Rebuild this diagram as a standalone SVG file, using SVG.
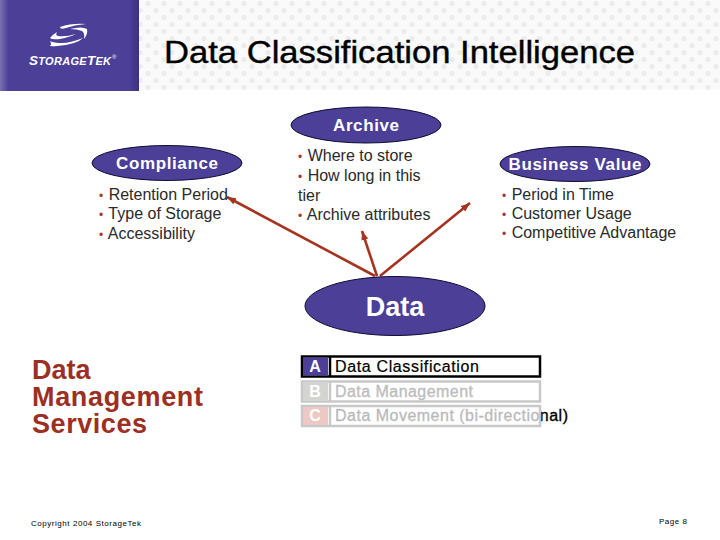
<svg xmlns="http://www.w3.org/2000/svg" width="720" height="540" viewBox="0 0 720 540">
<style>
text{font-family:"Liberation Sans",Arial,sans-serif}
.el{fill:#4b3f98;stroke:#100c30;stroke-width:1}
.hd{fill:#fff;font-weight:bold;text-anchor:middle}
.b{font-size:16px;fill:#2a2a2a}
.dot{fill:#a5382c;font-size:12px}
.c{stroke:#a5331f;stroke-width:2.6;fill:none;marker-end:url(#ah)}
.lt{font-size:16px}
.sv{font-size:27px;font-weight:bold;fill:#9c2f22}
</style>
<defs>
<marker id="ah" markerUnits="userSpaceOnUse" markerWidth="11" markerHeight="9" refX="9" refY="4" orient="auto"><path d="M0 0.500L9 4L0 7.500z" fill="#a5331f"/></marker>
<pattern id="dots" width="16" height="14" patternUnits="userSpaceOnUse"><rect width="16" height="14" fill="#fafafa"/><circle cx="4" cy="3.500" r="2.600" fill="#ececec"/><circle cx="12" cy="10.500" r="2.600" fill="#ececec"/></pattern>
<linearGradient id="bar" x1="0" x2="1" y1="0" y2="0"><stop offset="0" stop-color="#7b70b0"/><stop offset=".06" stop-color="#4b3f98"/><stop offset=".93" stop-color="#4b3f98"/><stop offset="1" stop-color="#3c3180"/></linearGradient>
</defs>
<g id="header">
<rect x="139" y="0" width="581" height="90" fill="url(#dots)"/>
<rect x="0" y="0" width="139" height="91" fill="url(#bar)"/>
<path d="M60 27Q72 23 86 24Q74 25 66 28Q60 30 60 27zM70 29Q82 26 87 29Q88 34 84 39Q85 33 82 31Q77 29 70 29zM57 32Q52 35 50 38Q52 40 60 39Q70 37 76 34Q66 37 58 36Q55 35 57 32zM50 41Q52 44 50 46Q62 47 74 43Q80 41 83 38Q70 43 62 43Q54 43 50 41z" fill="#fff"/>
<text x="29" y="65" font-size="11" font-style="italic" font-weight="bold" fill="#fff" textLength="82" lengthAdjust="spacing"><tspan font-size="13.500">S</tspan>TORAGE<tspan font-size="13.500">T</tspan>EK</text>
<text x="112" y="59" font-size="6" fill="#fff">®</text>
<text x="164" y="63" font-size="31" fill="#000" stroke="#000" stroke-width=".4" textLength="471" lengthAdjust="spacingAndGlyphs">Data Classification Intelligence</text>
</g>
<g id="connectors">
<line class="c" x1="375" y1="276" x2="227" y2="197"/>
<line class="c" x1="377" y1="276" x2="362" y2="231"/>
<line class="c" x1="380" y1="276" x2="470" y2="203"/>
</g>
<g id="archive">
<ellipse class="el" cx="366" cy="125" rx="75" ry="18"/>
<text class="hd" x="366" y="131" font-size="17" textLength="66" lengthAdjust="spacing">Archive</text>
<text class="b" x="298" y="161"><tspan class="dot">•</tspan><tspan dx="1"> Where to store</tspan></text>
<text class="b" x="298" y="181"><tspan class="dot">•</tspan><tspan dx="1"> How long in this</tspan></text>
<text class="b" x="298" y="201">tier</text>
<text class="b" x="298" y="220"><tspan class="dot">•</tspan><tspan dx="1"> Archive attributes</tspan></text>
</g>
<g id="compliance">
<ellipse class="el" cx="167" cy="163" rx="75" ry="17.500"/>
<text class="hd" x="167" y="169" font-size="17" textLength="102" lengthAdjust="spacing">Compliance</text>
<text class="b" x="99" y="200"><tspan class="dot">•</tspan><tspan dx="1"> Retention Period</tspan></text>
<text class="b" x="99" y="219"><tspan class="dot">•</tspan><tspan dx="1"> Type of Storage</tspan></text>
<text class="b" x="99" y="239"><tspan class="dot">•</tspan><tspan dx="1"> Accessibility</tspan></text>
</g>
<g id="business-value">
<ellipse class="el" cx="575" cy="164" rx="75" ry="17.500"/>
<text class="hd" x="575" y="170" font-size="17" textLength="133" lengthAdjust="spacing">Business Value</text>
<text class="b" x="502" y="200"><tspan class="dot">•</tspan><tspan dx="1"> Period in Time</tspan></text>
<text class="b" x="502" y="219"><tspan class="dot">•</tspan><tspan dx="1"> Customer Usage</tspan></text>
<text class="b" x="502" y="238"><tspan class="dot">•</tspan><tspan dx="1"> Competitive Advantage</tspan></text>
</g>
<g id="data">
<ellipse class="el" cx="395" cy="306" rx="90" ry="29.500"/>
<text class="hd" x="395" y="316" font-size="27">Data</text>
</g>
<g id="services">
<text class="sv" x="32" y="379">Data</text>
<text class="sv" x="32" y="406" textLength="171" lengthAdjust="spacing">Management</text>
<text class="sv" x="32" y="433" textLength="115" lengthAdjust="spacing">Services</text>
</g>
<g id="list">
<text class="lt" x="335" y="421" fill="#000" stroke="#000" stroke-width=".35" textLength="233" lengthAdjust="spacing">Data Movement (bi-directional)</text>
<rect x="301" y="405" width="240" height="22" fill="#fff" fill-opacity=".72"/>
<rect x="302" y="406" width="238" height="20" fill="none" stroke="#c8c8c8" stroke-width="2.500"/>
<rect x="303" y="407" width="25" height="18" fill="#eec8c2"/>
<line x1="330" y1="405" x2="330" y2="427" stroke="#c8c8c8" stroke-width="2.500"/>
<text class="hd" x="315" y="421" font-size="16">C</text>
<rect x="302" y="381.500" width="238" height="20" fill="#fff" stroke="#c8c8c8" stroke-width="2.500"/>
<rect x="303" y="382.500" width="25" height="18" fill="#d4d4d0"/>
<line x1="330" y1="381" x2="330" y2="402" stroke="#c8c8c8" stroke-width="2.500"/>
<text class="hd" x="315" y="397" font-size="16">B</text>
<text class="lt" x="335" y="397" fill="#bdbdbd" stroke="#bdbdbd" stroke-width=".35" textLength="138" lengthAdjust="spacing">Data Management</text>
<rect x="302" y="356.500" width="238" height="20" fill="#fff" stroke="#000" stroke-width="2.500"/>
<rect x="303" y="357.500" width="25" height="18" fill="#4b3f98"/>
<line x1="330" y1="356" x2="330" y2="377" stroke="#000" stroke-width="2.500"/>
<text class="hd" x="315" y="372" font-size="16">A</text>
<text class="lt" x="335" y="372" fill="#000" stroke="#000" stroke-width=".2" textLength="144" lengthAdjust="spacing">Data Classification</text>
</g>
<g id="footer">
<text x="31" y="526" font-size="8" fill="#000" textLength="110" lengthAdjust="spacing">Copyright 2004 StorageTek</text>
<text x="659" y="524" font-size="8" fill="#000" textLength="28" lengthAdjust="spacing">Page 8</text>
</g>
</svg>
